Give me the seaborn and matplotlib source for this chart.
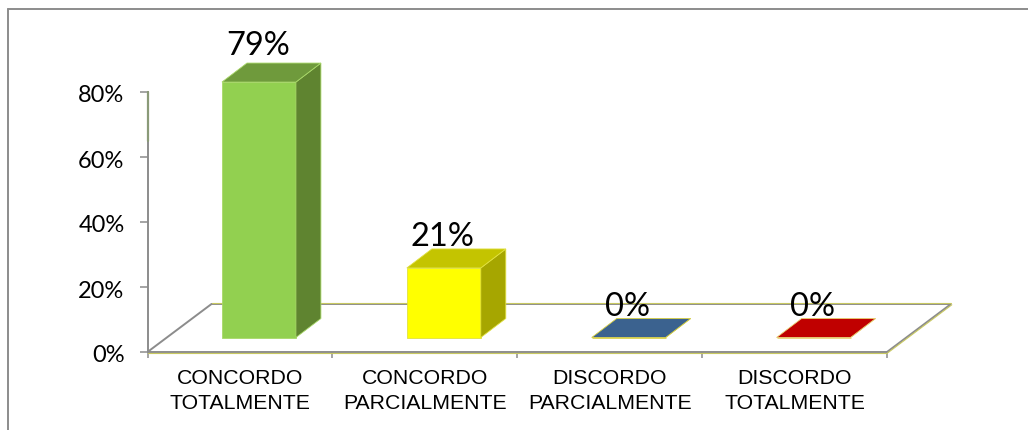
import matplotlib
matplotlib.use("Agg")
import matplotlib.pyplot as plt
import seaborn as sns
from matplotlib.lines import Line2D
from matplotlib.patches import Polygon
from matplotlib.transforms import Affine2D, IdentityTransform

# Chart data
categories = [
    "CONCORDO\nTOTALMENTE",
    "CONCORDO\nPARCIALMENTE",
    "DISCORDO\nPARCIALMENTE",
    "DISCORDO\nTOTALMENTE",
]
values = [78.6, 21.4, 0, 0]
y_ticks = [0, 20, 40, 60, 80]

# Face colours of the fake 3D bars
front_colors = ["#92D050", "#FFFF00", "#3B628F", "#C00000"]
top_colors = ["#6F9A3C", "#C4C400", "#3B628F", "#C00000"]
side_colors = ["#5F8430", "#A6A600", "#3B628F", "#C00000"]
edge_colors = ["#A8D868", "#E0E040", "#D8D040", "#E8D070"]

# Depth in pixels
BAR_SHIFT = (19, 14.5)
BAR_DEPTH = (25, 19)
FLOOR_DEPTH = (64, 48)
LABEL_LIFT = [27, 22, 22, 22]

GRAY = "#8C8C8C"
OLIVE = "#C8C860"

sns.set_theme(style="white")
plt.rcParams["font.family"] = ["Lato", "DejaVu Sans"]

fig = plt.figure(figsize=(10.28, 4.30), dpi=100)
ax = fig.add_axes([147.5 / 1028, 78 / 430, 739.5 / 1028, 260 / 430])

sns.barplot(
    x=categories,
    y=values,
    hue=categories,
    palette=front_colors,
    saturation=1,
    width=0.4,
    legend=False,
    ax=ax,
    zorder=3,
)
bars = list(ax.patches)
ax.set_xlim(-0.5, 3.5)
ax.set_ylim(0, 80)

# Axes furniture
for name in ["top", "right", "bottom"]:
    ax.spines[name].set_visible(False)
ax.spines["left"].set_color(GRAY)
ax.spines["left"].set_linewidth(1.4)

ax.set_yticks(y_ticks)
ax.set_yticklabels([f"{t}%" for t in y_ticks], fontsize=17, color="black")
ax.tick_params(axis="y", left=True, length=5.5, width=1.1, color=GRAY, pad=11)
for label in ax.get_yticklabels():
    label.set_transform(label.get_transform() + Affine2D().translate(0, -2))

ax.set_xticks(range(len(categories)))
ax.set_xticklabels(categories, fontsize=15.3, family="Liberation Sans", linespacing=1.42, color="black")
ax.set_xticks([i - 0.5 for i in range(len(categories) + 1)], minor=True)
ax.tick_params(axis="x", which="major", bottom=False, pad=6)
ax.tick_params(axis="x", which="minor", bottom=True, length=4.5, width=1.1, color=GRAY)

# Greenish stretch at the top of the value axis
ax.plot([0, 0], [65, 80], transform=ax.get_yaxis_transform(), color="#8A9A78", lw=1.6, clip_on=False, zorder=4)

# Floor of the 3D box
(x0, y0), (x1, y1) = ax.transAxes.transform([(0, 0), (1, 1)])
fx, fy = FLOOR_DEPTH
ax.add_patch(Polygon(
    [(x0, y0), (x1, y0), (x1 + fx, y0 + fy), (x0 + fx, y0 + fy)],
    closed=True, facecolor="none", edgecolor=GRAY, lw=1.4,
    transform=IdentityTransform(), clip_on=False, zorder=1,
))
for start, end in [
    ((x0, y0 - 1), (x1, y0 - 1)),
    ((x1 + 0.8, y0 - 0.8), (x1 + fx + 0.8, y0 + fy - 0.8)),
    ((x0 + fx, y0 + fy + 1), (x1 + fx, y0 + fy + 1)),
]:
    ax.add_line(Line2D(
        [start[0], end[0]], [start[1], end[1]], color=OLIVE, lw=0.8,
        transform=IdentityTransform(), clip_on=False, zorder=1,
    ))

# Turn the flat bars into boxes
shift = Affine2D().translate(*BAR_SHIFT)
dx, dy = BAR_DEPTH
for i, bar in enumerate(bars):
    (bx0, by0), (bx1, by1) = ax.transData.transform(
        [(bar.get_x(), 0), (bar.get_x() + bar.get_width(), bar.get_height())]
    )
    bx0 += BAR_SHIFT[0]
    bx1 += BAR_SHIFT[0]
    by0 += BAR_SHIFT[1]
    by1 += BAR_SHIFT[1]

    bar.set_transform(ax.transData + shift)
    bar.set_clip_on(False)
    bar.set_edgecolor(edge_colors[i])
    bar.set_linewidth(0.6)

    side = [(bx1, by0), (bx1 + dx, by0 + dy), (bx1 + dx, by1 + dy), (bx1, by1)]
    top = [(bx0, by1), (bx1, by1), (bx1 + dx, by1 + dy), (bx0 + dx, by1 + dy)]
    for corners, color in [(side, side_colors[i]), (top, top_colors[i])]:
        ax.add_patch(Polygon(
            corners, closed=True, facecolor=color, edgecolor=edge_colors[i], lw=0.6,
            transform=IdentityTransform(), clip_on=False, zorder=3,
        ))

    ax.annotate(
        f"{values[i]:.0f}%",
        xy=(bar.get_x() + bar.get_width() / 2, bar.get_height()),
        xytext=(BAR_SHIFT[0] - 1, BAR_SHIFT[1] + LABEL_LIFT[i]),
        xycoords="data",
        textcoords="offset pixels",
        ha="center",
        va="baseline",
        fontsize=23.5,
        color="black",
        annotation_clip=False,
        zorder=5,
    )

# Outer chart frame, only the top and left edges show
fig.add_artist(Line2D([7.5 / 1028, 7.5 / 1028], [0, 421.5 / 430], color=GRAY, lw=1.4))
fig.add_artist(Line2D([7.5 / 1028, 1], [421.5 / 430, 421.5 / 430], color=GRAY, lw=1.4))

fig.savefig("out.png", dpi=100, facecolor="white")
